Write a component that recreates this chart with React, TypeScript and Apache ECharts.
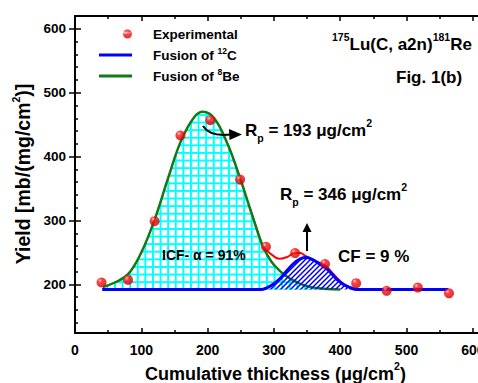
import React, { useEffect, useRef } from 'react';
import * as echarts from 'echarts';

// Experimental points (cumulative thickness, yield)
const expX = [40, 80, 120, 159, 204, 249, 288, 332, 377, 424, 470, 517, 564];
const expY = [203, 207, 299, 433, 457, 364, 259, 249, 232, 202, 190, 195, 186];

// Fusion of 8Be (ICF) curve
const beX = [42, 60, 80, 100, 120, 140, 160, 180, 193, 210, 230, 250, 262, 274, 284, 296, 308, 320, 332, 345, 360, 380, 400];
const beY = [196, 203, 216, 250, 301, 365, 425, 462, 470, 460, 420, 363, 325, 287, 258, 236, 222, 212, 205, 199, 195, 193, 192];

// Fusion of 12C (CF) curve
const cX = [41, 120, 200, 280, 290, 300, 310, 320, 330, 340, 348, 356, 366, 377, 386, 395, 405, 415, 425, 480, 563];
const cY = [192, 192, 192, 192, 195, 201, 210, 222, 233, 240, 242, 240, 234, 227, 218, 208, 200, 195, 192, 192, 192];

// Total (red) curve
const totX = [262, 274, 284, 295, 308, 320, 332, 340, 347, 359, 377, 390, 405, 420, 440];
const totY = [325, 287, 259, 248, 240, 243, 249, 249, 245, 238, 230, 216, 201, 194, 192];

const baseline = 192;
const xMax = 650;
const yMin = 124;
const yMax = 620;
const yTicks = [200, 300, 400, 500, 600];
const yMinorTicks = [140, 160, 180, 220, 240, 260, 280, 320, 340, 360, 380, 420, 440, 460, 480, 520, 540, 560, 580];

const FF = '"Liberation Sans", Arial, Helvetica, sans-serif';
const GREEN = '#137a13';
const BLUE = '#0000ff';
const RED = '#ff0000';

const pairs = (xs: number[], ys: number[]) => xs.map((x, i) => [x, ys[i]]);

function richStyles(size: number, supLH: number) {
  return {
    t: { fontSize: size, fontWeight: 'bold', fontFamily: FF, lineHeight: 26, color: '#000' },
    s: { fontSize: 10.5, fontWeight: 'bold', fontFamily: FF, lineHeight: supLH, verticalAlign: 'top', color: '#000' },
    b: { fontSize: 10.5, fontWeight: 'bold', fontFamily: FF, lineHeight: 12, verticalAlign: 'bottom', color: '#000' },
  };
}

function txt(x: number, y: number, text: string, size: number, supLH = 8, extra: any = {}) {
  return {
    type: 'text',
    x,
    y,
    z: 100,
    ...extra,
    style: {
      text,
      rich: richStyles(size, supLH),
      fontFamily: FF,
      fontWeight: 'bold',
      fontSize: size,
      fill: '#000',
      align: extra.align || 'left',
      verticalAlign: 'middle',
    },
  };
}

export default function App() {
  const ref = useRef<HTMLDivElement>(null);
  useEffect(() => {
    if (!ref.current) return;
    const chart = echarts.init(ref.current, undefined, { renderer: 'svg' });

    const g = document.createElement('canvas');
    g.width = 8;
    g.height = 8;
    const gc = g.getContext('2d')!;
    gc.fillStyle = '#00ffff';
    gc.fillRect(0, 0, 8, 2);
    gc.fillRect(0, 0, 2, 8);
    const gridPattern: any = { image: g, repeat: 'repeat', imageWidth: 8, imageHeight: 8, scaleX: 0.95, scaleY: 0.95 };

    const h = document.createElement('canvas');
    h.width = 5;
    h.height = 5;
    const hc = h.getContext('2d')!;
    hc.strokeStyle = '#0000ee';
    hc.lineWidth = 1.5;
    hc.beginPath();
    hc.moveTo(-1, 6); hc.lineTo(6, -1);
    hc.moveTo(-1, 1); hc.lineTo(1, -1);
    hc.moveTo(4, 6); hc.lineTo(6, 4);
    hc.stroke();
    const hatchPattern: any = { image: h, repeat: 'repeat', imageWidth: 5, imageHeight: 5 };

    const ballStops = [
      { offset: 0, color: '#ffc4c4' },
      { offset: 0.28, color: '#ff1414' },
      { offset: 1, color: '#c80000' },
    ];
    const redBall = { type: 'radial', x: 0.35, y: 0.3, r: 0.75, colorStops: ballStops };
    const legendBall = { type: 'radial', x: 0.8, y: 0.35, r: 0.7, colorStops: ballStops };

    const axisLabelStyle = { fontSize: 14, fontWeight: 'bold', fontFamily: FF, color: '#000' };
    const lineBlack = { color: '#000', width: 2 };
    const tickBlack = { color: '#000', width: 1.5 };

    const xAxisBase = (position: 'top' | 'bottom', labels: boolean) => ({
      type: 'value',
      position,
      min: 0,
      max: xMax,
      interval: 100,
      axisLine: { show: true, onZero: false, lineStyle: lineBlack },
      axisTick: { show: true, inside: true, length: 5, lineStyle: tickBlack },
      minorTick: { show: true, splitNumber: 2, length: 3, lineStyle: tickBlack },
      axisLabel: labels
        ? { show: true, margin: 10, formatter: (v: number) => (v <= 600 ? String(v) : ''), ...axisLabelStyle }
        : { show: false },
      splitLine: { show: false },
      minorSplitLine: { show: false },
    });

    const yAxisBase = (extra: any) => ({
      type: 'value',
      position: 'left',
      min: yMin,
      max: yMax,
      splitLine: { show: false },
      axisLine: { show: false },
      axisLabel: { show: false },
      ...extra,
    });

    const legendRich = {
      g: { width: 16 },
      t: { fontSize: 13.5, fontWeight: 'bold', fontFamily: FF, lineHeight: 18, color: '#000' },
      s: { fontSize: 8.5, fontWeight: 'bold', fontFamily: FF, lineHeight: 8, verticalAlign: 'top', color: '#000' },
    };
    const legendText: Record<string, string> = {
      Experimental: '{g|}{t|Experimental}',
      'Fusion of 12C': '{g|}{t|Fusion of }{s|12}{t|C}',
      'Fusion of 8Be': '{g|}{t|Fusion of }{s|8}{t|Be}',
    };
    const lineIcon = 'path://M0,0h0.01M0,9h0.01M0,3h33v3h-33z';

    chart.setOption({
      animation: false,
      backgroundColor: '#fff',
      grid: { left: 75, right: -28, top: 16, bottom: 50, containLabel: false, outerBoundsMode: 'none' },
      xAxis: [xAxisBase('bottom', true), xAxisBase('top', false)],
      yAxis: [
        yAxisBase({
          axisLine: { show: true, onZero: false, lineStyle: lineBlack },
          axisTick: { show: true, inside: true, length: 6, customValues: yTicks, lineStyle: tickBlack },
          axisLabel: {
            show: true,
            margin: 9,
            customValues: yTicks,
            formatter: (v: number) => (v % 100 === 0 ? String(v) : ''),
            ...axisLabelStyle,
            fontSize: 13.5,
          },
        }),
        yAxisBase({ axisTick: { show: true, inside: false, length: 6, customValues: yTicks, lineStyle: tickBlack } }),
        yAxisBase({ axisTick: { show: true, inside: true, length: 3, customValues: yMinorTicks, lineStyle: tickBlack } }),
      ],
      legend: {
        left: 99,
        top: 27,
        orient: 'vertical',
        padding: 0,
        itemGap: 5,
        itemWidth: 33,
        itemHeight: 9,
        selectedMode: false,
        data: [
          { name: 'Experimental', icon: 'path://M0,4.5h0.01M24,4.5a4.5,4.5 0 1,0 9,0a4.5,4.5 0 1,0 -9,0z', itemStyle: { color: legendBall } },
          { name: 'Fusion of 12C', icon: lineIcon, itemStyle: { color: BLUE } },
          { name: 'Fusion of 8Be', icon: lineIcon, itemStyle: { color: GREEN } },
        ],
        formatter: (name: string) => legendText[name] || name,
        textStyle: { rich: legendRich },
      },
      series: [
        {
          name: 'Total',
          type: 'line',
          data: pairs(totX, totY),
          smooth: 0.4,
          symbol: 'none',
          lineStyle: { color: RED, width: 2 },
          itemStyle: { color: RED },
          z: 1,
          silent: true,
        },
        {
          name: 'Fusion of 8Be',
          type: 'line',
          data: pairs(beX, beY),
          smooth: 0.4,
          symbol: 'none',
          lineStyle: { color: GREEN, width: 2.5 },
          itemStyle: { color: GREEN },
          areaStyle: { origin: baseline, color: gridPattern, opacity: 1 },
          z: 2,
          silent: true,
        },
        {
          name: 'Fusion of 12C',
          type: 'line',
          data: pairs(cX, cY),
          smooth: 0.4,
          symbol: 'none',
          lineStyle: { color: BLUE, width: 3 },
          itemStyle: { color: BLUE },
          z: 3,
          silent: true,
        },
        {
          name: 'Experimental',
          type: 'scatter',
          data: pairs(expX, expY),
          symbolSize: 10,
          itemStyle: { color: redBall },
          z: 4,
          silent: true,
        },
        {
          name: 'CF area',
          type: 'line',
          data: pairs(cX, cY).filter((p) => p[0] >= 200 && p[0] <= 480),
          smooth: 0.4,
          symbol: 'none',
          lineStyle: { width: 0, opacity: 0 },
          areaStyle: { origin: baseline, color: hatchPattern, opacity: 1 },
          z: 5,
          silent: true,
        },
      ],
      graphic: [
        txt(332, 44.7, '{s|175}{t|Lu(C, a2n)}{s|181}{t|Re}', 17),
        txt(396, 77.3, '{t|Fig. 1(b)}', 17),
        txt(245, 130, '{t|R}{b|p}{t| = 193 μg/cm}{s|2}', 17),
        txt(280, 194, '{t|R}{b|p}{t| = 346 μg/cm}{s|2}', 17),
        txt(338, 256.7, '{t|CF = 9 %}', 17),
        txt(162, 255, '{t|ICF- α = 91%}', 14),
        txt(275.5, 373.7, '{t|Cumulative thickness (μg/cm}{s|2}{t|)}', 18, 16, { align: 'center' }),
        txt(23, 174, '{t|Yield [mb/(mg/cm}{s|2}{t|)]}', 19.5, 16, { align: 'center', rotation: Math.PI / 2 }),
        {
          type: 'bezierCurve',
          z: 100,
          shape: { x1: 203, y1: 126, x2: 231, y2: 134.5, cpx1: 210, cpy1: 137 },
          style: { stroke: '#000', lineWidth: 2, fill: null },
        },
        { type: 'polygon', z: 100, shape: { points: [[229, 129], [242, 134.5], [229.5, 140]] }, style: { fill: '#000' } },
        { type: 'line', z: 100, shape: { x1: 307, y1: 251, x2: 307, y2: 231 }, style: { stroke: '#000', lineWidth: 2 } },
        { type: 'polygon', z: 100, shape: { points: [[302.5, 232], [307, 223], [311.5, 232]] }, style: { fill: '#000' } },
      ],
    });
    return () => chart.dispose();
  }, []);
  return (
    <div
      ref={ref}
      style={{ position: 'fixed', left: 0, top: 0, width: 478, height: 383, overflow: 'hidden', background: '#fff' }}
    />
  );
}
